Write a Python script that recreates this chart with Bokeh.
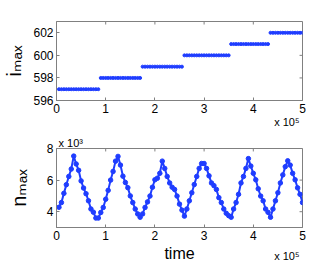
import numpy as np
from bokeh.plotting import figure
from bokeh.layouts import column
from bokeh.models import Range1d, FixedTicker, Title
from bokeh.embed import file_html
from bokeh.resources import INLINE

# time samples (simulation steps)
time = list(range(5000, 500001, 5000))

# i_max: position of the maximum (steps)
i_max = ([597] * 17 + [598] * 17 + [599] * 17 + [600] * 19 + [601] * 16 + [602] * 14)

# n_max in units of 10^3
n_max = [4.28, 4.58, 5.16, 5.71, 6.23, 6.70, 7.52, 7.02, 6.62, 5.95,
         5.50, 5.14, 4.69, 4.17, 3.97, 3.60, 3.60, 3.95, 4.27, 4.79,
         5.35, 6.00, 6.55, 7.20, 7.50, 6.95, 6.25, 5.85, 5.52, 5.00,
         4.58, 4.17, 3.86, 3.65, 3.86, 4.27, 4.62, 4.99, 5.55, 6.02,
         6.12, 6.43, 7.20, 6.74, 6.23, 5.82, 5.55, 5.41, 4.99, 4.48,
         4.10, 3.72, 4.17, 4.69, 5.20, 5.72, 6.23, 6.74, 7.05, 7.05,
         6.74, 6.27, 5.82, 5.65, 5.41, 4.89, 4.58, 4.17, 3.90, 3.75,
         3.65, 4.17, 4.58, 5.10, 5.82, 6.23, 6.74, 7.36, 6.89, 6.43,
         6.02, 5.45, 4.99, 4.69, 4.17, 3.96, 3.65, 4.17, 4.69, 5.20,
         5.82, 6.33, 6.85, 7.22, 6.95, 6.43, 6.02, 5.51, 5.10, 4.58]

x_ticks = [0, 1, 2, 3, 4, 5]
i_ticks = [596, 598, 600, 602]
n_ticks = [4, 6, 8]

FONT = "Liberation Sans, DejaVu Sans"
FRAME = "#808080"
BLUE = "#1f3dff"
TICK_PX = 3

t_scaled = np.array(time) / 1e5


def style(p, xr, yr, yticks, frame_w, frame_h):
    p.grid.visible = False
    p.outline_line_color = FRAME
    p.background_fill_color = "white"
    p.border_fill_color = "white"
    for ax in (p.xaxis[0], p.yaxis[0]):
        ax.axis_line_color = FRAME
        ax.major_tick_line_color = FRAME
        ax.minor_tick_line_color = None
        ax.major_tick_in = TICK_PX
        ax.major_tick_out = 0
        ax.major_label_text_font = FONT
        ax.major_label_text_font_size = "12px"
        ax.major_label_text_color = "black"
        ax.major_label_standoff = 3
        ax.axis_label_text_font = FONT
        ax.axis_label_text_font_style = "normal"
        ax.axis_label_text_color = "black"
    p.xaxis[0].ticker = FixedTicker(ticks=x_ticks)
    p.yaxis[0].ticker = FixedTicker(ticks=yticks)
    # mirrored inner ticks on the top and right edges (box on)
    dy = (yr[1] - yr[0]) * TICK_PX / frame_h
    dx = (xr[1] - xr[0]) * TICK_PX / frame_w
    p.segment(x0=x_ticks, y0=[yr[1]] * len(x_ticks), x1=x_ticks, y1=[yr[1] - dy] * len(x_ticks),
              line_color=FRAME, line_width=1)
    p.segment(x0=[xr[1]] * len(yticks), y0=yticks, x1=[xr[1] - dx] * len(yticks), y1=yticks,
              line_color=FRAME, line_width=1)


def title(p, text, place, align, size, offset=0, standoff=0, valign="bottom"):
    p.add_layout(Title(text=text, align=align, text_font=FONT, text_font_size=size,
                       text_font_style="normal", text_color="black", offset=offset,
                       standoff=standoff, vertical_align=valign), place)


X_RANGE = (0, 5)
I_RANGE = (596, 603)
N_RANGE = (3, 8)

p1 = figure(width=332, height=134, x_range=Range1d(*X_RANGE), y_range=Range1d(*I_RANGE),
            output_backend="svg", toolbar_location=None,
            min_border_left=53, min_border_right=30, min_border_top=21, min_border_bottom=34)
style(p1, X_RANGE, I_RANGE, i_ticks, 249, 79)
p1.scatter(t_scaled, i_max, size=3, color=BLUE, marker="circle")
p1.yaxis[0].axis_label = "i\u2098\u2090\u2093"
p1.yaxis[0].axis_label_text_font_size = "20px"
p1.yaxis[0].axis_label_standoff = 5
title(p1, "x 10\u2075", "below", "right", "11px", offset=3, standoff=0, valign="top")

p2 = figure(width=332, height=132, x_range=Range1d(*X_RANGE), y_range=Range1d(*N_RANGE),
            output_backend="svg", toolbar_location=None,
            min_border_left=53, min_border_right=30, min_border_top=13, min_border_bottom=39)
style(p2, X_RANGE, N_RANGE, n_ticks, 249, 80)
p2.line(t_scaled, n_max, line_width=2, color=BLUE)
p2.scatter(t_scaled, n_max, size=4.5, color=BLUE, marker="circle")
p2.yaxis[0].axis_label = "n\u2098\u2090\u2093"
p2.yaxis[0].axis_label_text_font_size = "20px"
p2.yaxis[0].axis_label_standoff = 14
p2.xaxis[0].axis_label = "time"
p2.xaxis[0].axis_label_text_font_size = "16px"
p2.xaxis[0].axis_label_standoff = 2
title(p2, "x 10\u00b3", "above", "left", "11px", offset=2, standoff=0)
title(p2, "x 10\u2075", "below", "right", "11px", offset=3, standoff=-30, valign="top")

layout = column(p1, p2, spacing=0)
open("out.html", "w").write(file_html(layout, INLINE))
